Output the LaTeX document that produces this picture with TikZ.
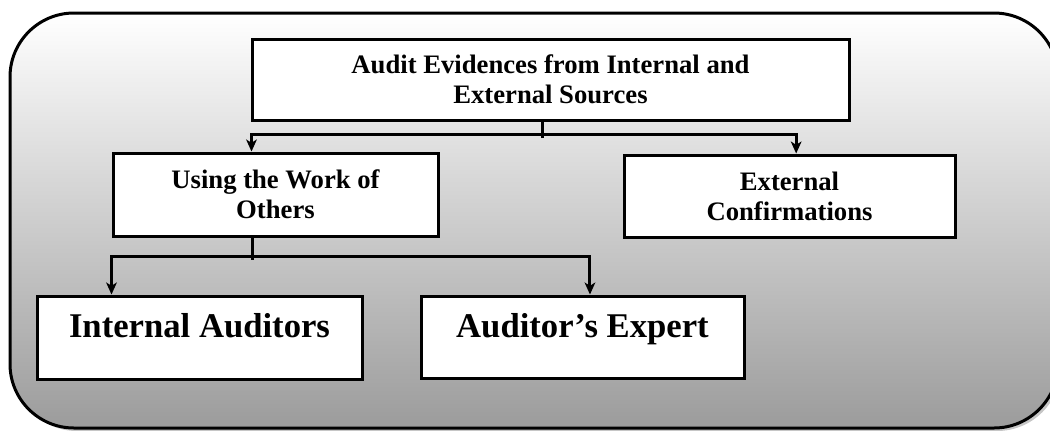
\documentclass[tikz,border=0pt]{standalone}
\usepackage{fontspec}
\setmainfont{Liberation Serif}
\usetikzlibrary{arrows.meta,calc}

\tikzset{every picture/.style={line width=0.75pt}}
\tikzset{
  box/.style={draw, fill=white, line width=2.25pt, align=center, inner sep=0pt, font=\bfseries\fontsize{20}{22.5}\selectfont},
  bigbox/.style={box, font=\bfseries\fontsize{26}{30}\selectfont, text height=15pt, text depth=15pt},
  link/.style={line width=2.25pt},
  arrow/.style={link, -{Stealth[length=9pt,width=8pt,inset=2.5pt]}},
}

\begin{document}
\begin{tikzpicture}[x=0.75pt,y=0.75pt,yscale=-1,xscale=1]
\useasboundingbox (0,0) rectangle (1050,430);

%Shadow of the panel
\fill [gray!45, rounded corners=48pt] (13,16) rectangle (1061,431);
%Rounded Rect
\draw [line width=2.25pt, rounded corners=48pt, top color=white, bottom color=black!39] (10,13) rectangle (1058,428);

% Boxes
\node [box, minimum width=447.75pt, minimum height=60.75pt] (top) at (550.5,79.5) {Audit Evidences from Internal and\\External Sources};
\node [box, minimum width=243.75pt, minimum height=62.25pt] (using) at (275.5,194.5) {Using the Work of\\Others};
\node [box, minimum width=248.25pt, minimum height=61.5pt] (ext) at (789.5,196) {External\\Confirmations};
\node [bigbox, minimum width=243.75pt, minimum height=62.25pt] (internal) at (199.5,337.5) {Internal Auditors};
\node [bigbox, minimum width=242.25pt, minimum height=61.5pt] (expert) at (582.5,337) {Auditor’s Expert};

% Connectors
\coordinate (fork1) at ($(top.south)+(-8.5,13)$);
\coordinate (fork2) at ($(using.south)+(-23.5,19)$);
\draw [link] ($(top.south)+(-8.5,0)$) -- ($(fork1)+(0,3)$);
\draw [arrow] (fork1) -| ([xshift=105pt]using.north west);
\draw [arrow] (fork1) -| ([xshift=5pt]ext.north);
\draw [link] ($(using.south)+(-23.5,0)$) -- ($(fork2)+(0,3)$);
\draw [arrow] (fork2) -| ([xshift=57pt]internal.north west);
\draw [arrow] (fork2) -| ([xshift=5.6pt]expert.north);

\end{tikzpicture}
\end{document}
